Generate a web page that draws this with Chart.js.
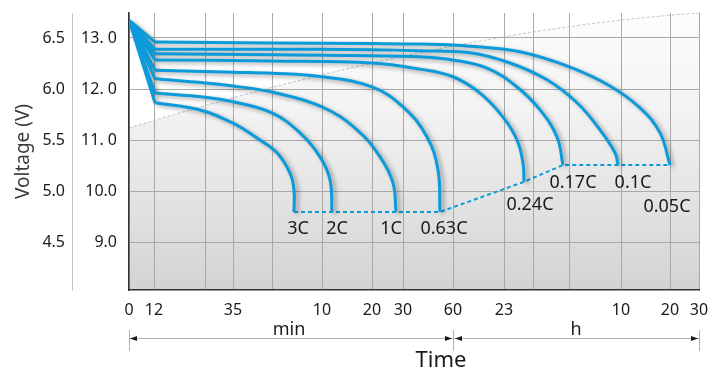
<!DOCTYPE html>
<html>
<head>
<meta charset="utf-8">
<script src="https://cdn.jsdelivr.net/npm/chart.js@4"></script>
<style>
  html, body { margin: 0; padding: 0; background: #fff; }
  #wrap { position: relative; width: 722px; height: 369px; }
</style>
</head>
<body>
<div id="wrap"><canvas id="chart"></canvas></div>
<script>
// discharge rate of each curve
const rates = ['3C', '2C', '1C', '0.63C', '0.24C', '0.17C', '0.1C', '0.05C'];

// voltage at time 0, every curve starts here
const startVoltage = 13.35;

// time axis is piecewise (minutes then hours), so positions are axis units
const timeTicks = [0, 25, 76, 104, 143, 193, 243, 274, 324, 375, 404, 440, 492, 541, 570];
const timeLabels = ['0', '12', '', '35', '', '10', '20', '30', '60', '23', '', '', '10', '20', '30'];

// battery voltage (inner column) and per-cell voltage (outer column)
const voltTicks = [9, 10, 11, 12, 13];
const voltLabels = ['9.0', '10.0', '11. 0', '12. 0', '13. 0'];
const cellTicks = [4.5, 5.0, 5.5, 6.0, 6.5];
const cellLabels = ['4.5', '5.0', '5.5', '6.0', '6.5'];

// curve points: time position / voltage
const t3C = [26, 71, 104, 131, 148, 161, 165, 165];
const v3C = [11.73, 11.59, 11.33, 11.0, 10.75, 10.35, 10.02, 9.59];

const t2C = [26, 76, 104, 143, 171, 191, 201, 203];
const v2C = [11.92, 11.84, 11.75, 11.53, 11.14, 10.67, 10.22, 9.59];

const t1C = [26, 76, 104, 143, 193, 228, 251, 264, 267];
const v1C = [12.2, 12.12, 12.06, 11.94, 11.65, 11.2, 10.67, 10.16, 9.59];

const t063C = [26, 104, 143, 193, 243, 274, 298, 309, 311];
const v063C = [12.37, 12.33, 12.31, 12.24, 12.04, 11.65, 11.06, 10.41, 9.59];

const t024C = [26, 143, 243, 291, 324, 351, 374, 388, 394, 395];
const v024C = [12.57, 12.55, 12.51, 12.39, 12.24, 11.92, 11.45, 11.0, 10.55, 10.18];

const t017C = [26, 143, 243, 291, 324, 358, 388, 411, 428, 434];
const v017C = [12.69, 12.67, 12.65, 12.63, 12.57, 12.41, 12.04, 11.59, 11.06, 10.51];

const t01C = [26, 143, 243, 291, 341, 381, 418, 448, 471, 486, 489];
const v01C = [12.78, 12.78, 12.77, 12.75, 12.71, 12.51, 12.18, 11.73, 11.2, 10.75, 10.51];

const t005C = [26, 143, 243, 291, 341, 391, 441, 481, 511, 531, 541];
const v005C = [12.92, 12.9, 12.89, 12.88, 12.84, 12.73, 12.43, 12.06, 11.63, 11.14, 10.51];

const curves = [
  { t: t3C, v: v3C }, { t: t2C, v: v2C }, { t: t1C, v: v1C }, { t: t063C, v: v063C },
  { t: t024C, v: v024C }, { t: t017C, v: v017C }, { t: t01C, v: v01C }, { t: t005C, v: v005C }
];

const BLUE = '#0b9bdb';
const FONT = '"Noto Sans", sans-serif';

const toPoints = (t, v) => t.map((x, i) => ({ x, y: v[i] }));

// initial drop from the common start point, one segment per curve
const fanData = [];
curves.forEach(c => {
  fanData.push({ x: 0, y: startVoltage }, { x: c.t[0], y: c.v[0] }, { x: c.t[0], y: null });
});

// cut-off line through the end of every curve
const cutoffData = curves.map(c => ({ x: c.t[c.t.length - 1], y: c.v[c.v.length - 1] }));

const datasets = curves.map((c, i) => ({
  label: rates[i],
  data: toPoints(c.t, c.v),
  borderColor: BLUE,
  borderWidth: 3,
  tension: 0.4,
  pointRadius: 0,
  fill: false
}));
datasets.push({
  label: 'fan', data: fanData, borderColor: BLUE, borderWidth: 3,
  tension: 0, pointRadius: 0, fill: false
});
datasets.push({
  label: 'cutoff', data: cutoffData, borderColor: BLUE, borderWidth: 2,
  borderDash: [4, 3], tension: 0, pointRadius: 0, fill: false
});

// light sheen behind the plot
const backdrop = {
  id: 'backdrop',
  beforeDraw(chart) {
    const { ctx, chartArea: a } = chart;
    const w = a.right - a.left, h = a.bottom - a.top;
    ctx.save();
    const g = ctx.createLinearGradient(0, a.top, 0, a.bottom);
    g.addColorStop(0, '#fdfdfd');
    g.addColorStop(0.35, '#f3f3f3');
    g.addColorStop(1, '#d3d3d3');
    ctx.fillStyle = g;
    ctx.fillRect(a.left, a.top, w, h);
    const sx = a.left, sy = a.top + h * 0.415;
    const cx = a.left + w * 0.563, cy = a.top + h * 0.061;
    ctx.beginPath();
    ctx.moveTo(a.left, a.top);
    ctx.lineTo(sx, sy);
    ctx.quadraticCurveTo(cx, cy, a.right, a.top);
    ctx.closePath();
    ctx.fillStyle = '#ffffff';
    ctx.fill();
    ctx.beginPath();
    ctx.moveTo(sx, sy);
    ctx.quadraticCurveTo(cx, cy, a.right, a.top);
    ctx.strokeStyle = 'rgba(170,170,170,0.7)';
    ctx.setLineDash([3, 2]);
    ctx.lineWidth = 1;
    ctx.stroke();
    ctx.restore();
  }
};

// soft grey shadow under the solid curves
const shadow = {
  id: 'shadow',
  beforeDatasetDraw(chart, args) {
    const ctx = chart.ctx;
    ctx.save();
    if (args.meta.label !== 'cutoff') {
      ctx.shadowColor = 'rgba(0,0,0,0.35)';
      ctx.shadowBlur = 4;
      ctx.shadowOffsetX = 3;
      ctx.shadowOffsetY = 2;
    }
  },
  afterDatasetDraw(chart) {
    chart.ctx.restore();
  }
};

// rate labels and the min / h time brackets
const labelShift = [[4, 17], [5, 17], [-5, 17], [4, 17], [6, 23], [10, 18], [15, 18], [-3, 42]];

const annotations = {
  id: 'annotations',
  afterDraw(chart) {
    const { ctx, chartArea: a, scales: { x, y } } = chart;
    ctx.save();
    ctx.fillStyle = '#1a1a1a';
    ctx.font = '18px ' + FONT;
    ctx.textAlign = 'center';
    ctx.textBaseline = 'middle';
    curves.forEach((c, i) => {
      const n = c.t.length - 1;
      ctx.fillText(rates[i], x.getPixelForValue(c.t[n]) + labelShift[i][0],
        y.getPixelForValue(c.v[n]) + labelShift[i][1]);
    });

    const xL = x.getPixelForValue(timeTicks[0]);
    const xM = x.getPixelForValue(timeTicks[8]);
    const xR = x.getPixelForValue(timeTicks[timeTicks.length - 1]);
    const ay = a.bottom + 48.5;

    ctx.strokeStyle = '#b0b0b0';
    ctx.lineWidth = 1;
    ctx.beginPath();
    [xL, xM, xR].forEach(px => {
      ctx.moveTo(Math.round(px) + 0.5, a.bottom + 40);
      ctx.lineTo(Math.round(px) + 0.5, a.bottom + 61);
    });
    ctx.moveTo(xL, ay);
    ctx.lineTo(xR, ay);
    ctx.stroke();

    const head = (tx, dir) => {
      ctx.beginPath();
      ctx.moveTo(tx, ay);
      ctx.lineTo(tx - dir * 7, ay - 2.5);
      ctx.lineTo(tx - dir * 7, ay + 2.5);
      ctx.closePath();
      ctx.fill();
    };
    head(xL + 1, -1);
    head(xM - 1, 1);
    head(xM + 2, -1);
    head(xR - 1, 1);

    ctx.textBaseline = 'alphabetic';
    ctx.fillText('min', (xL + xM) / 2 - 2, a.bottom + 45);
    ctx.fillText('h', (xM + xR) / 2, a.bottom + 45);
    ctx.font = '22px ' + FONT;
    ctx.fillText('Time', xM - 12, a.bottom + 77);
    ctx.restore();
  }
};

// vertical axes: fixed width, no extra label padding above the plot
const fitVertical = width => s => {
  s.width = width;
  s.paddingTop = 0;
  s.paddingBottom = 0;
};

new Chart(document.getElementById('chart'), {
  type: 'line',
  data: { datasets },
  options: {
    responsive: true,
    maintainAspectRatio: false,
    animation: false,
    layout: { padding: { top: 13, right: 23, left: 0, bottom: 0 } },
    plugins: { legend: { display: false }, tooltip: { enabled: false } },
    scales: {
      x: {
        type: 'linear',
        min: 0,
        max: 570,
        afterBuildTicks: s => { s.ticks = timeTicks.map(value => ({ value })); },
        afterFit: s => { s.height = 79; },
        ticks: {
          autoSkip: false, maxRotation: 0, padding: 11,
          color: '#1a1a1a', font: { family: FONT, size: 16 },
          callback: (v, i) => timeLabels[i]
        },
        grid: { color: '#a9a9a9', lineWidth: 1, drawTicks: false },
        border: { color: '#333', width: 1.5 }
      },
      y: {
        position: 'left',
        min: 8.06,
        max: 13.49,
        weight: 0,
        afterBuildTicks: s => { s.ticks = voltTicks.map(value => ({ value })); },
        afterFit: fitVertical(57),
        ticks: {
          padding: 12, color: '#1a1a1a', font: { family: FONT, size: 16 },
          callback: (v, i) => voltLabels[i]
        },
        grid: { color: '#a9a9a9', lineWidth: 1, drawTicks: false },
        border: { color: '#333', width: 1.5 }
      },
      y2: {
        position: 'left',
        min: 4.03,
        max: 6.745,
        weight: 1,
        afterBuildTicks: s => { s.ticks = cellTicks.map(value => ({ value })); },
        afterFit: fitVertical(72),
        ticks: {
          padding: 7, color: '#1a1a1a', font: { family: FONT, size: 16 },
          callback: (v, i) => cellLabels[i]
        },
        grid: { display: false, drawTicks: false },
        border: { color: '#c4c4c4', width: 1 },
        title: {
          display: true, text: 'Voltage (V)', color: '#3a3a3a',
          font: { family: FONT, size: 19 }, padding: { top: 12, bottom: 0 }
        }
      }
    }
  },
  plugins: [backdrop, shadow, annotations]
});
</script>
</body>
</html>
